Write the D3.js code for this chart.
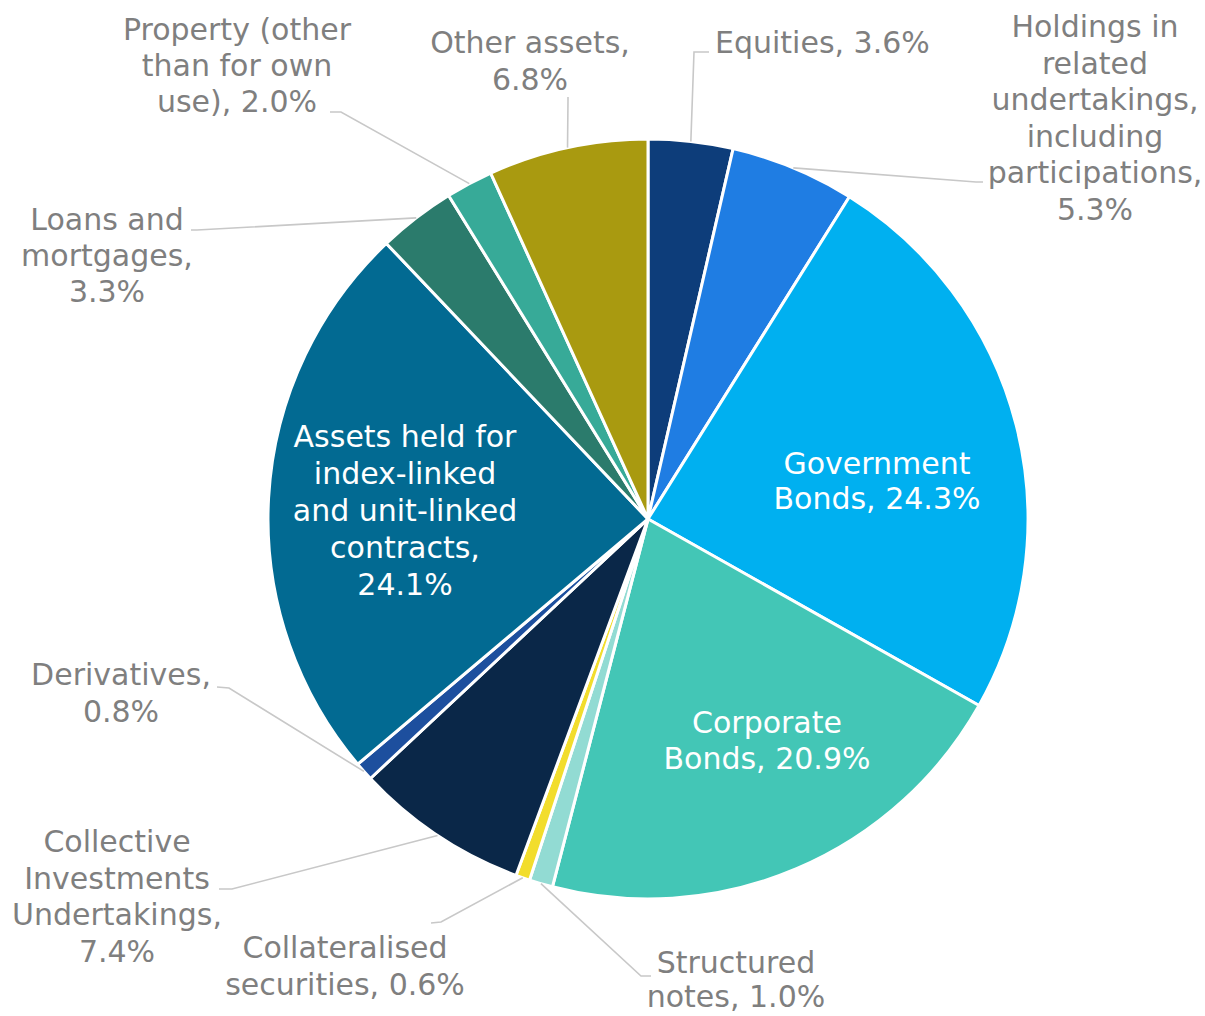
<!DOCTYPE html>
<html>
<head>
<meta charset="utf-8">
<script src="https://cdn.jsdelivr.net/npm/d3@7/dist/d3.min.js"></script>
<style>
  html, body { margin: 0; padding: 0; background: #ffffff; }
  svg { display: block; }
  text { font-family: "DejaVu Sans", Verdana, sans-serif; }
</style>
</head>
<body>
<svg id="chart" width="1205" height="1016"></svg>
<script>
// Asset categories, clockwise from 12 o'clock
const categories = [
  "Equities",
  "Holdings in related undertakings, including participations",
  "Government Bonds",
  "Corporate Bonds",
  "Structured notes",
  "Collateralised securities",
  "Collective Investments Undertakings",
  "Derivatives",
  "Assets held for index-linked and unit-linked contracts",
  "Loans and mortgages",
  "Property (other than for own use)",
  "Other assets"
];

// Share of total investments, %
const shares = [3.6, 5.3, 24.3, 20.9, 1.0, 0.6, 7.4, 0.8, 24.1, 3.3, 2.0, 6.8];

// Slice fills
const palette = [
  "#0d3d7a", "#1f7de3", "#00b0f0", "#43c6b6", "#92dbd3", "#f2dd2c",
  "#0a2748", "#1d4f9e", "#026a92", "#2b7b6c", "#37aa98", "#a99a10"
];

const svg = d3.select("#chart");
const cx = 648, cy = 519, R = 380;
const fmt = d3.format(".1f");

const rows = categories.map((c, i) => ({ name: c, value: shares[i], color: palette[i], i }));

const pie = d3.pie().sort(null).value(d => d.value);
const arcs = pie(rows);

const arc = d3.arc().innerRadius(0).outerRadius(R);
const rim = d3.arc().innerRadius(R).outerRadius(R);

const g = svg.append("g").attr("transform", `translate(${cx},${cy})`);

g.selectAll("path.slice")
  .data(arcs)
  .join("path")
  .attr("class", "slice")
  .attr("d", arc)
  .attr("fill", d => d.data.color)
  .attr("stroke", "#ffffff")
  .attr("stroke-width", 3)
  .attr("stroke-linejoin", "round");

// Label placement: words per line, anchor, first baseline, line step,
// and for outside labels the leader start / elbow (page coordinates).
const layout = {
  0:  { words: [2], x: 715, y: 53, anchor: "start", outside: true, lead: [[709, 52], [694, 52]] },
  1:  { words: [2, 1, 1, 1, 1, 1], x: 1095, y: 37, step: 36.5, outside: true, lead: [[983, 182], [976, 182]] },
  2:  { words: [1, 2], x: 877, y: 474, step: 35, inside: true },
  3:  { words: [1, 2], x: 767, y: 733, step: 35.5, inside: true },
  4:  { words: [1, 2], x: 736, y: 973, step: 34, outside: true, lead: [[651, 976], [641, 976]] },
  5:  { words: [1, 2], x: 345, y: 958, step: 37, outside: true, lead: [[431, 923], [441, 922]] },
  6:  { words: [1, 1, 1, 1], x: 117, y: 852, step: 36.7, outside: true, lead: [[219, 889], [232, 889]] },
  7:  { words: [1, 1], x: 121, y: 685, step: 37, outside: true, lead: [[217, 687], [229, 688]] },
  8:  { words: [3, 1, 2, 1, 1], x: 405, y: 447, step: 37, inside: true },
  9:  { words: [2, 1, 1], x: 107, y: 230, step: 36, outside: true, lead: [[191, 230], [197, 230]] },
  10: { words: [2, 3, 2], x: 237, y: 40, step: 36, outside: true, lead: [[330, 112], [341, 112]] },
  11: { words: [2, 1], x: 530, y: 53, step: 37, outside: true, lead: [[568, 97], [568, 100]] }
};

function labelLines(d, words) {
  const tokens = `${d.name}, ${fmt(d.value)}%`.split(" ");
  const out = [];
  let k = 0;
  words.forEach(n => { out.push(tokens.slice(k, k + n).join(" ")); k += n; });
  return out;
}

// Leader lines
const leaders = svg.append("g");
arcs.forEach(a => {
  const L = layout[a.data.i];
  if (!L.outside) return;
  const [px, py] = rim.centroid(a);
  const pts = [...L.lead, [cx + px, cy + py]];
  leaders.append("path")
    .attr("d", d3.line()(pts))
    .attr("fill", "none")
    .attr("stroke", "#c8c8c8")
    .attr("stroke-width", 1.6);
});

// Labels
const labels = svg.append("g");
arcs.forEach(a => {
  const L = layout[a.data.i];
  const lines = labelLines(a.data, L.words);
  const t = labels.append("text")
    .attr("x", L.x)
    .attr("y", L.y)
    .attr("text-anchor", L.anchor || "middle")
    .attr("font-size", 30)
    .attr("fill", L.inside ? "#ffffff" : "#7f7f7f");
  lines.forEach((s, j) => {
    t.append("tspan").attr("x", L.x).attr("y", L.y + j * (L.step || 36)).text(s);
  });
});
</script>
</body>
</html>
